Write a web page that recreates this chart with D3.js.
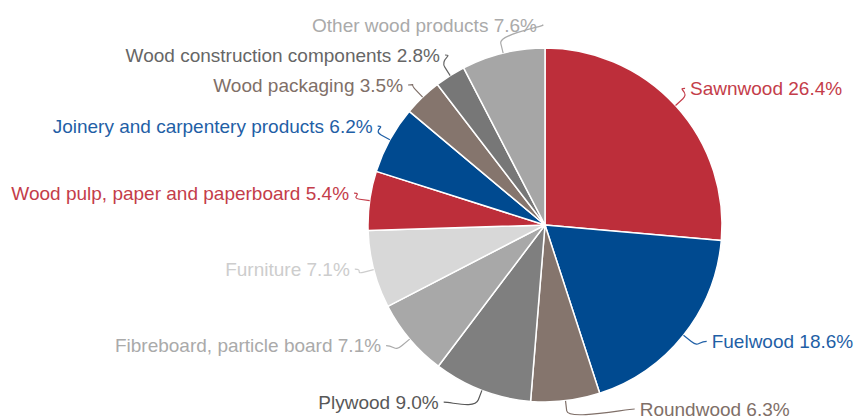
<!DOCTYPE html>
<html>
<head>
<meta charset="utf-8">
<script src="https://cdn.jsdelivr.net/npm/d3@7"></script>
<style>
  body { margin: 0; background: #fff; }
  text { font-family: "Liberation Sans", Arial, sans-serif; }
</style>
</head>
<body>
<div id="chart"></div>
<script>
// data (share of total, %)
var categories = ["Sawnwood", "Fuelwood", "Roundwood", "Plywood",
  "Fibreboard, particle board", "Furniture", "Wood pulp, paper and paperboard",
  "Joinery and carpentery products", "Wood packaging",
  "Wood construction components", "Other wood products"];
var values = [26.4, 18.6, 6.3, 9.0, 7.1, 7.1, 5.4, 6.2, 3.5, 2.8, 7.6];

// colours of slices and of their labels
var slice_colors = ["#bd2e3a", "#004a90", "#85756d", "#7f7f7f", "#a8a8a8", "#d8d8d8",
  "#bd2e3a", "#004a90", "#85756d", "#777777", "#a6a6a6"];
var label_colors = ["#c43d4a", "#1f5fa6", "#7f6f68", "#585858", "#aaaaaa", "#cdcdcd",
  "#c43d4a", "#1f5fa6", "#7f6f68", "#666666", "#aaaaaa"];

const chart_width = 854, chart_height = 419;
const cx = 545, cy = 225, radius = 177;
const label_dist = 195;          // natural label radius
const rx = 191, ry = 202, ly = 229; // ellipse used for label x
const pad = 5, gap = 30;

var svg = d3.select("#chart")
  .append("svg")
  .attr("width", chart_width)
  .attr("height", chart_height);

var data = categories.map((c, i) => ({ name: c, value: values[i], i: i }));

var pie = d3.pie().sort(null).value(d => d.value);
var arc = d3.arc().innerRadius(0).outerRadius(radius);
var arcs = pie(data);

var g = svg.append("g").attr("transform", "translate(" + cx + "," + cy + ")");

g.selectAll("path")
  .data(arcs)
  .enter()
  .append("path")
  .attr("d", arc)
  .attr("fill", d => slice_colors[d.data.i])
  .attr("stroke", "#fff")
  .attr("stroke-width", 1.5)
  .attr("stroke-linejoin", "round");

// label layout: natural position, then push apart on each side
var labels = arcs.map(d => {
  var a = (d.startAngle + d.endAngle) / 2;
  return {
    d: d, a: a,
    side: Math.sin(a) >= 0 ? 1 : -1,
    y: cy - label_dist * Math.cos(a) - 5
  };
});

[1, -1].forEach(side => {
  var list = labels.filter(l => l.side === side).sort((p, q) => p.y - q.y);
  for (var it = 0; it < 200; it++) {
    for (var k = 0; k < list.length - 1; k++) {
      var diff = list[k + 1].y - list[k].y;
      if (diff < gap) {
        var m = (gap - diff) / 2;
        list[k].y -= m;
        list[k + 1].y += m;
      }
    }
    list.forEach(l => { l.y = Math.max(14, Math.min(chart_height - 10, l.y)); });
  }
});

labels.forEach(l => {
  var t = (l.y - ly) / ry;
  var ex = Math.abs(t) >= 1 ? 0 : rx * Math.sqrt(1 - t * t);
  l.x = cx + l.side * ex;
  var s = Math.sin(l.a), c = Math.cos(l.a);
  l.tx = cx + radius * s;  l.ty = cy - radius * c;
  l.bx = cx + (radius + 10) * s;  l.by = cy - (radius + 10) * c;
});

svg.selectAll("path.connector")
  .data(labels)
  .enter()
  .append("path")
  .attr("class", "connector")
  .attr("d", l => {
    var sx = l.x + l.side * 3;
    return "M" + sx + "," + l.y +
      "C" + (l.x - l.side * 6) + "," + l.y + " " +
      (2 * l.bx - l.tx) + "," + (2 * l.by - l.ty) + " " +
      l.bx + "," + l.by +
      "L" + l.tx + "," + l.ty;
  })
  .attr("fill", "none")
  .attr("stroke", l => label_colors[l.d.data.i])
  .attr("stroke-width", 1.2);

svg.selectAll("text.label")
  .data(labels)
  .enter()
  .append("text")
  .attr("class", "label")
  .attr("x", l => l.x + l.side * (pad + 3))
  .attr("y", l => l.y)
  .attr("dy", "0.35em")
  .attr("text-anchor", l => l.side > 0 ? "start" : "end")
  .attr("font-size", "19px")
  .attr("fill", l => label_colors[l.d.data.i])
  .text(l => l.d.data.name + " " + d3.format(".1f")(l.d.data.value) + "%");
</script>
</body>
</html>
